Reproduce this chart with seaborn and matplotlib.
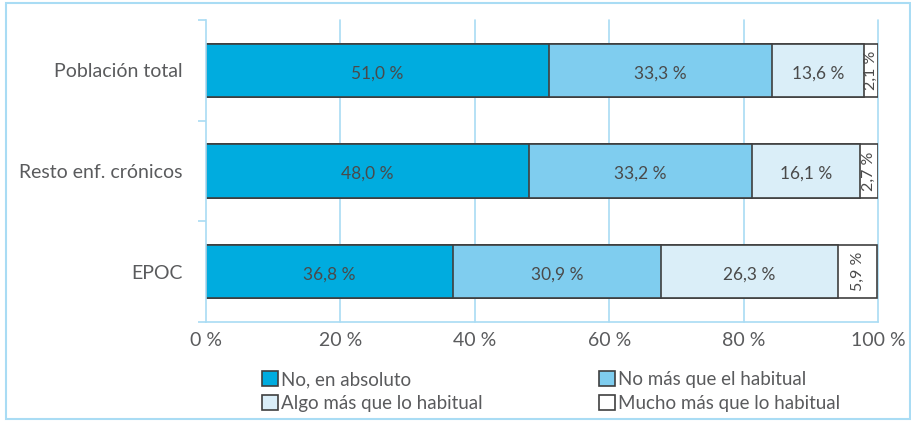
import matplotlib
matplotlib.use("Agg")
import matplotlib.pyplot as plt
from matplotlib.patches import Patch, Rectangle
import numpy as np
import pandas as pd
import seaborn as sns

# Data
groups = ["Población total", "Resto enf. crónicos", "EPOC"]
series_names = ["No, en absoluto", "No más que el habitual",
                "Algo más que lo habitual", "Mucho más que lo habitual"]
no_absoluto = [51.0, 48.0, 36.8]
no_mas = [33.3, 33.2, 30.9]
algo_mas = [13.6, 16.1, 26.3]
mucho_mas = [2.1, 2.7, 5.9]
x_ticks = [0, 20, 40, 60, 80, 100]
x_tick_labels = ["0 %", "20 %", "40 %", "60 %", "80 %", "100 %"]

colors = ["#00acdf", "#7fcdef", "#daeef8", "#ffffff"]
edge = "#3f3f3f"
grid_col = "#a9dcf4"
text_col = "#5a5b5d"

sns.set_theme(style="white")
plt.rcParams["font.family"] = ["Lato", "DejaVu Sans"]

fig = plt.figure(figsize=(9.12, 4.21), dpi=100)
ax = fig.add_axes([206 / 912, 1 - 322 / 421, 672 / 912, 302 / 421])

values = [no_absoluto, no_mas, algo_mas, mucho_mas]
cum = np.cumsum(np.array(values), axis=0)

# stacked bars: draw the cumulative totals from the widest to the narrowest
for i in range(len(values) - 1, -1, -1):
    df = pd.DataFrame({"grupo": groups, "valor": cum[i]})
    sns.barplot(data=df, x="valor", y="grupo", orient="h", ax=ax,
                color=colors[i], edgecolor=edge, linewidth=1.2,
                width=0.53, saturation=1)

# value labels
for i, vals in enumerate(values):
    for j, v in enumerate(vals):
        center = cum[i][j] - v / 2
        label = f"{v:.1f} %".replace(".", ",")
        if i == 3:
            ax.text(center, j, label, rotation=90, ha="center", va="center",
                    fontsize=11.5, color="#4a4a4a")
        else:
            ax.text(center, j + 0.03, label, ha="center", va="center",
                    fontsize=12.5, color="#4a4a4a")

ax.set_xlim(0, 100)
ax.set_ylim(2.5, -0.5)
ax.set_xlabel("")
ax.set_ylabel("")

ax.set_xticks(x_ticks)
ax.set_xticklabels(x_tick_labels)
ax.set_yticks(range(len(groups)))
ax.set_yticklabels(groups)
ax.set_yticks([-0.5, 0.5, 1.5, 2.5], minor=True)

for xv in x_ticks[1:]:
    ax.axvline(xv, color=grid_col, lw=1.2, zorder=0, clip_on=False)

for side in ["top", "right"]:
    ax.spines[side].set_visible(False)
for side in ["left", "bottom"]:
    ax.spines[side].set_color(grid_col)
    ax.spines[side].set_linewidth(1.2)

ax.tick_params(axis="x", which="major", length=7, width=1.2, color=grid_col,
               labelsize=14, labelcolor=text_col, pad=4, direction="inout")
ax.tick_params(axis="y", which="major", length=0, labelsize=14,
               labelcolor=text_col, pad=17)
ax.tick_params(axis="y", which="minor", length=6, width=1.2, color=grid_col,
               left=True)

# legend
handles = [Patch(facecolor=colors[k], edgecolor=edge, linewidth=1.2,
                 label=series_names[k]) for k in [0, 2, 1, 3]]
leg = fig.legend(handles=handles, ncol=2, loc="upper left",
                 bbox_to_anchor=(253 / 912, 1 - 362 / 421), frameon=False,
                 handlelength=0.85, handleheight=0.85, handletextpad=0.15,
                 columnspacing=6.2, labelspacing=0.35, borderpad=0,
                 prop={"size": 13.5})
for t in leg.get_texts():
    t.set_color(text_col)

# outer frame
fig.patches.append(Rectangle((6 / 912, 2 / 421), 904 / 912, 416 / 421,
                             transform=fig.transFigure, fill=False,
                             edgecolor=grid_col, lw=1.5))

fig.savefig("out.png", dpi=100)
